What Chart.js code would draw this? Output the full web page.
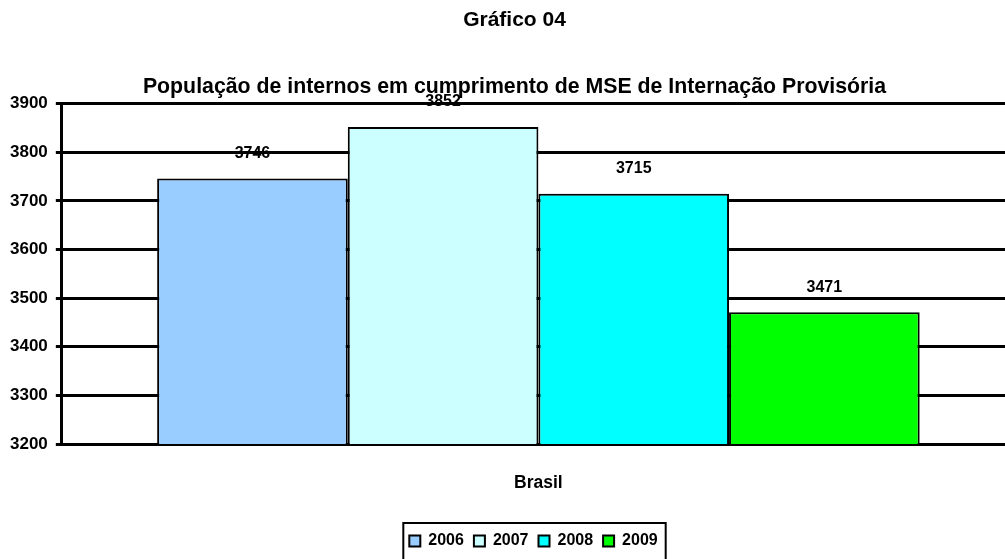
<!DOCTYPE html>
<html>
<head>
<meta charset="utf-8">
<script src="https://cdn.jsdelivr.net/npm/chart.js@4"></script>
<style>
  html, body { margin: 0; padding: 0; background: #fff; overflow: hidden; }
  #wrap { width: 1030px; height: 559px; }
</style>
</head>
<body>
<div id="wrap"><canvas id="grafico"></canvas></div>
<script>
// dados
const categorias = ['Brasil'];
const anos = ['2006', '2007', '2008', '2009'];
const valores = [3746, 3852, 3715, 3471];
const cores = ['#99CCFF', '#CCFFFF', '#00FFFF', '#00FF00'];
const ticksY = [3200, 3300, 3400, 3500, 3600, 3700, 3800, 3900];

const FONTE = '"Liberation Sans", Arial, sans-serif';

// valores acima das barras
const rotulosBarras = {
  id: 'rotulosBarras',
  afterDatasetsDraw(chart) {
    const ctx = chart.ctx;
    ctx.save();
    ctx.font = 'bold 16px ' + FONTE;
    ctx.fillStyle = '#000';
    ctx.textAlign = 'center';
    ctx.textBaseline = 'middle';
    chart.data.datasets.forEach((ds, i) => {
      const meta = chart.getDatasetMeta(i);
      meta.data.forEach((bar, j) => {
        ctx.fillText(ds.data[j], bar.x, bar.y - 25);
      });
    });
    ctx.restore();
  }
};

// pequenos deslocamentos horizontais (títulos e legenda) + moldura da legenda
const ajustes = {
  id: 'ajustes',
  afterLayout(chart) {
    chart.boxes.forEach(b => {
      if (b.position === 'top' && b.options && b.options.text) {
        b.left += 6;
        b.right += 6;
      }
    });
    chart.legend.left += 25;
    chart.legend.right += 25;
  },
  afterDraw(chart) {
    const boxes = chart.legend.legendHitBoxes;
    if (!boxes || !boxes.length) return;
    let l = Infinity, r = -Infinity, t = Infinity;
    boxes.forEach(h => {
      l = Math.min(l, h.left); r = Math.max(r, h.left + h.width);
      t = Math.min(t, h.top);
    });
    const ctx = chart.ctx;
    ctx.save();
    ctx.strokeStyle = '#000';
    ctx.lineWidth = 2;
    ctx.strokeRect(l - 6, t - 10, (r - l) + 14, chart.height - t + 20);
    ctx.restore();
  }
};

const datasets = anos.map((ano, i) => ({
  label: ano,
  data: [valores[i]],
  backgroundColor: cores[i],
  borderColor: '#000',
  borderWidth: 2,
  borderSkipped: 'bottom'
}));

new Chart(document.getElementById('grafico'), {
  type: 'bar',
  data: { labels: categorias, datasets: datasets },
  options: {
    responsive: true,
    maintainAspectRatio: false,
    animation: false,
    layout: { padding: { left: 2, right: 15, bottom: 0 } },
    datasets: { bar: { barPercentage: 1, categoryPercentage: 0.80 } },
    plugins: {
      title: {
        display: true,
        text: 'Gráfico 04',
        color: '#000',
        font: { family: FONTE, size: 21, weight: 'bold' },
        padding: { top: 8, bottom: 41 }
      },
      subtitle: {
        display: true,
        text: 'População de internos em cumprimento de MSE de Internação Provisória',
        color: '#000',
        font: { family: FONTE, size: 21.3, weight: 'bold' },
        padding: { bottom: 4 }
      },
      legend: {
        position: 'bottom',
        labels: {
          color: '#000',
          font: { family: FONTE, size: 16, weight: 'bold' },
          boxWidth: 11,
          boxHeight: 11,
          padding: 10,
          generateLabels(chart) {
            return chart.data.datasets.map((ds, i) => ({
              text: ds.label,
              fillStyle: ds.backgroundColor,
              strokeStyle: '#000',
              lineWidth: 2,
              datasetIndex: i
            }));
          }
        }
      },
      tooltip: { enabled: false }
    },
    scales: {
      x: {
        grid: { display: false },
        border: { color: '#000', width: 3 },
        afterFit(scale) { scale.height += 8; },
        ticks: {
          color: '#000',
          padding: 21,
          font: { family: FONTE, size: 17.5, weight: 'bold' }
        }
      },
      y: {
        min: 3200,
        max: 3900,
        afterBuildTicks(axis) { axis.ticks = ticksY.map(v => ({ value: v })); },
        grid: { color: '#000', lineWidth: 3, tickLength: 6 },
        border: { color: '#000', width: 3 },
        ticks: {
          color: '#000',
          padding: 8,
          font: { family: FONTE, size: 17, weight: 'bold' },
          callback: v => String(v)
        }
      }
    }
  },
  plugins: [rotulosBarras, ajustes]
});
</script>
</body>
</html>
